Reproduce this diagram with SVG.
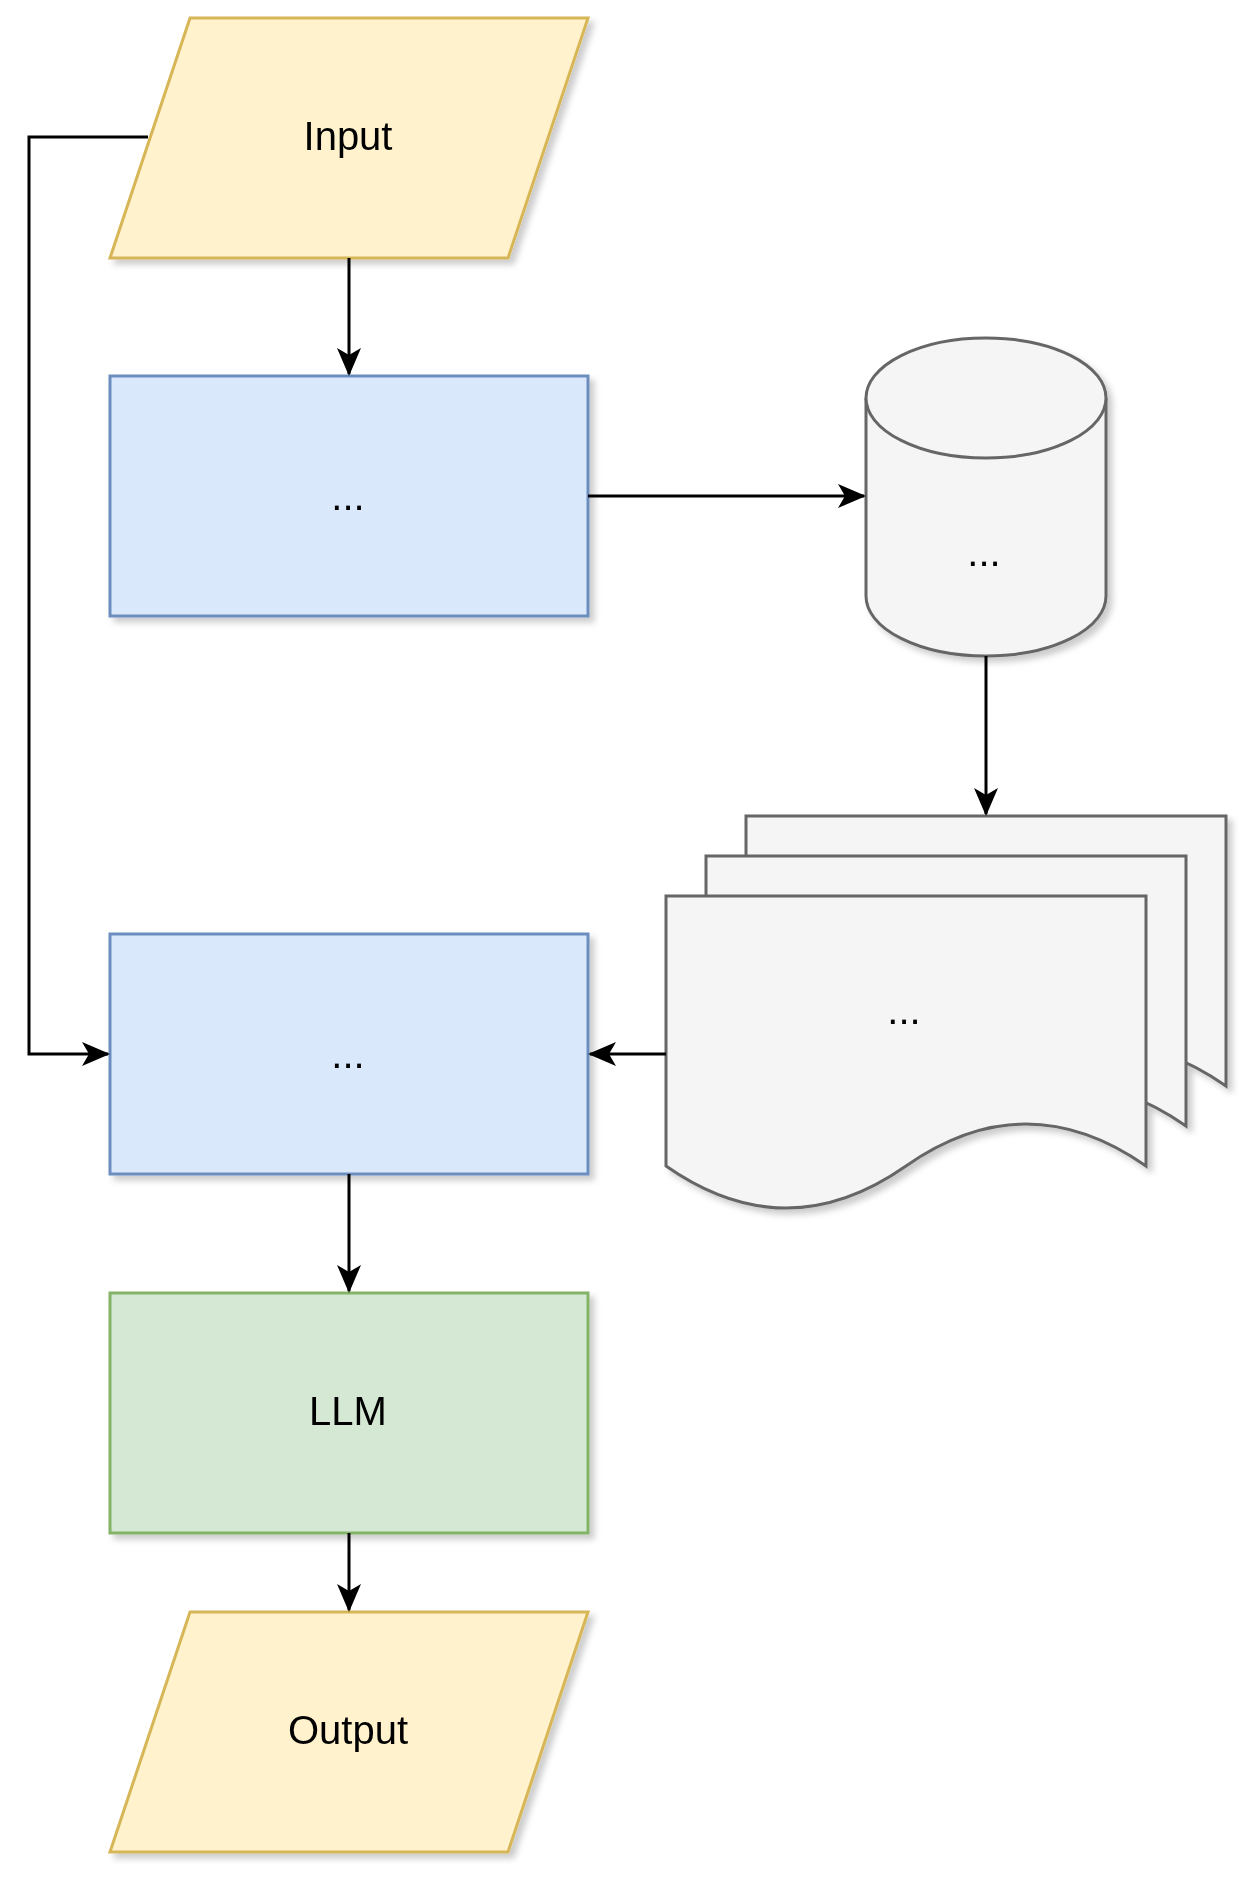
<svg xmlns="http://www.w3.org/2000/svg" width="1256" height="1888" viewBox="0 0 1256 1888">
<style>
text{font-family:"Liberation Sans",Arial,sans-serif;font-size:40px;text-anchor:middle;dominant-baseline:central}
.io{fill:#fff2cc;stroke:#d6b656;stroke-width:3}
.bl{fill:#dae8fc;stroke:#6c8ebf;stroke-width:3}
.gr{fill:#d5e8d4;stroke:#82b366;stroke-width:3}
.gy{fill:#f5f5f5;stroke:#666;stroke-width:3}
.c{fill:none;stroke:#000;stroke-width:3}
</style>
<defs>
<filter id="sh" x="-10%" y="-10%" width="130%" height="130%"><feDropShadow dx="5" dy="5" stdDeviation="3" flood-color="#000" flood-opacity="0.2"/></filter>
<marker id="a" markerWidth="28" markerHeight="28" viewBox="0 0 28 28" refX="26" refY="14" orient="auto" markerUnits="userSpaceOnUse"><path d="M0,2 L28,14 L0,26 L7,14 Z" fill="#000"/></marker>
</defs>
<g filter="url(#sh)">
<g id="input"><path class="io" d="M190,18 H588 L508,258 H110 Z"/><text x="348" y="136">Input</text></g>
<g id="proc1"><rect class="bl" x="110" y="376" width="478" height="240"/><text x="348" y="496">...</text></g>
<g id="db"><path class="gy" d="M866,398 A120,60 0 0 1 1106,398 V596 A120,60 0 0 1 866,596 Z"/><path class="gy" d="M866,398 A120,60 0 0 0 1106,398"/><text x="984" y="552">...</text></g>
<g id="docs">
<path class="gy" d="M746,816 H1226 V1086 Q1106,1002 986,1086 Q866,1170 746,1086 Z"/>
<path class="gy" d="M706,856 H1186 V1126 Q1066,1042 946,1126 Q826,1210 706,1126 Z"/>
<path class="gy" d="M666,896 H1146 V1166 Q1026,1082 906,1166 Q786,1250 666,1166 Z"/>
<text x="904" y="1010">...</text></g>
<g id="proc2"><rect class="bl" x="110" y="934" width="478" height="240"/><text x="348" y="1054">...</text></g>
<g id="llm"><rect class="gr" x="110" y="1293" width="478" height="240"/><text x="348" y="1411">LLM</text></g>
<g id="output"><path class="io" d="M190,1612 H588 L508,1852 H110 Z"/><text x="348" y="1730">Output</text></g>
</g>
<g id="connectors">
<path class="c" d="M349,258 V374" marker-end="url(#a)"/>
<path class="c" d="M588,496 H864" marker-end="url(#a)"/>
<path class="c" d="M986,656 V814" marker-end="url(#a)"/>
<path class="c" d="M666,1054 H590" marker-end="url(#a)"/>
<path class="c" d="M148,137 H29 V1054 H108" marker-end="url(#a)"/>
<path class="c" d="M349,1174 V1291" marker-end="url(#a)"/>
<path class="c" d="M349,1533 V1610" marker-end="url(#a)"/>
</g>
</svg>
